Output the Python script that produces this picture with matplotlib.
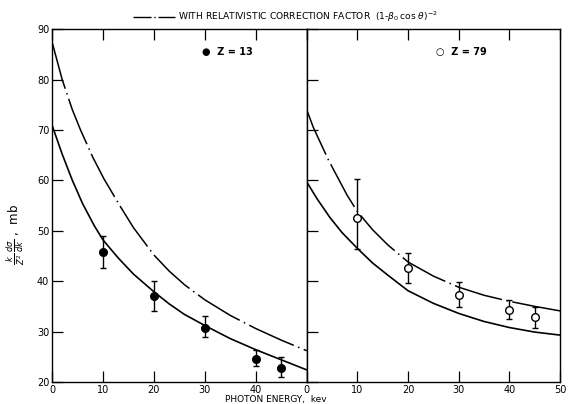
import matplotlib
matplotlib.use("Agg")
import matplotlib.pyplot as plt
from matplotlib.lines import Line2D

# ---------------- data ----------------
# Z = 13 panel
al_x = [10, 20, 30, 40, 45]
al_y = [45.7, 37.0, 30.8, 24.6, 22.7]
al_lo = [42.7, 34.1, 28.9, 23.2, 20.9]
al_hi = [48.9, 40.1, 33.1, 26.3, 25.0]

al_solid_x = [0, 2, 4, 6, 8.3, 10, 13, 16, 20, 23, 26, 30, 35, 40, 45, 50]
al_solid_y = [71.0, 65.2, 60.0, 55.4, 51.0, 48.2, 44.6, 41.4, 37.9, 35.5, 33.4, 31.2, 28.6, 26.4, 24.4, 22.4]
al_rel_x = [0, 2, 4, 5.6, 8, 10.2, 13.3, 16, 20, 23, 26, 30, 35, 40, 45, 50]
al_rel_y = [87.5, 80.0, 74.0, 70.0, 64.6, 60.3, 55.0, 50.6, 45.2, 42.0, 39.3, 36.3, 33.2, 30.6, 28.3, 26.2]

# Z = 79 panel
au_x = [10, 20, 30, 40, 45]
au_y = [52.6, 42.7, 37.2, 34.3, 32.9]
au_lo = [46.3, 39.7, 34.9, 32.4, 30.8]
au_hi = [60.3, 45.6, 39.9, 36.2, 34.9]

au_solid_x = [0, 2, 4.6, 7, 10, 13, 16, 20, 25, 30, 35, 40, 45, 50]
au_solid_y = [59.7, 56.4, 52.6, 49.6, 46.5, 43.6, 41.2, 38.1, 35.6, 33.6, 32.0, 30.8, 29.9, 29.3]
au_rel_x = [0, 1.3, 4.3, 8, 10, 13, 16, 20, 25, 30, 35, 40, 45, 50]
au_rel_y = [74.0, 70.5, 64.0, 57.0, 53.8, 50.2, 47.2, 43.8, 41.0, 38.8, 37.2, 36.0, 35.0, 34.1]

x_ticks = [0, 10, 20, 30, 40, 50]
y_ticks = [20, 30, 40, 50, 60, 70, 80, 90]

# ---------------- figure ----------------
plt.rcParams.update({"font.family": "DejaVu Sans", "font.size": 7})
fig = plt.figure(figsize=(5.68, 4.04), dpi=100)

bottom, height = 0.0545, 0.928 - 0.0545
ax1 = fig.add_axes([0.0915, bottom, 0.540 - 0.0915, height])
ax2 = fig.add_axes([0.540, bottom, 0.986 - 0.540, height])

dashdot = (0, (32, 3, 1, 3))

for ax in (ax1, ax2):
    ax.set_xlim(0, 50)
    ax.set_ylim(20, 90)
    ax.set_xticks(x_ticks)
    ax.set_yticks(y_ticks)
    ax.tick_params(direction="in", length=8, width=0.9, top=True, bottom=True,
                   left=True, right=False, pad=2, labelsize=7)
    for sp in ax.spines.values():
        sp.set_linewidth(1.0)

# the 50 of the left panel is the 0 of the right panel
ax1.set_xticklabels(["0", "10", "20", "30", "40", ""])
ax2.set_xticklabels(["0", "10", "20", "30", "40", "50"])
ax2.set_yticklabels([])

# left panel
ax1.plot(al_solid_x, al_solid_y, color="black", lw=1.2)
ax1.plot(al_rel_x, al_rel_y, color="black", lw=1.1, linestyle=dashdot)
ax1.errorbar(al_x, al_y,
             yerr=[[y - l for y, l in zip(al_y, al_lo)], [h - y for y, h in zip(al_y, al_hi)]],
             fmt="o", color="black", ms=5.5, capsize=2, elinewidth=1.0, capthick=1.0)
ax1.text(0.59, 0.935, "\u25cf  Z = 13", transform=ax1.transAxes, fontsize=7,
         fontweight="bold", va="center")

# right panel
ax2.plot(au_solid_x, au_solid_y, color="black", lw=1.2)
ax2.plot(au_rel_x, au_rel_y, color="black", lw=1.1, linestyle=dashdot)
ax2.errorbar(au_x, au_y,
             yerr=[[y - l for y, l in zip(au_y, au_lo)], [h - y for y, h in zip(au_y, au_hi)]],
             fmt="o", color="black", mfc="white", ms=5.5, capsize=2, elinewidth=1.0,
             capthick=1.0)
ax2.text(0.51, 0.935, "\u25cb  Z = 79", transform=ax2.transAxes, fontsize=7,
         fontweight="bold", va="center")

# axis labels
fig.text(0.486, 0.0, "PHOTON ENERGY,  kev", ha="center", va="bottom", fontsize=6.5)
fig.text(0.027, 0.42, r"$\frac{k}{Z^2}\,\frac{d\sigma}{dk}$ ,  mb", rotation=90,
         ha="center", va="center", fontsize=8.5)

# key for the dash-dot curves, at the top
fig.add_artist(Line2D([133 / 568, 175 / 568], [0.959, 0.959], color="black", lw=1.0,
                      linestyle=(0, (13, 2, 1, 2))))
fig.text(178 / 568, 0.959, r"WITH RELATIVISTIC CORRECTION FACTOR  $(1$-$\beta_0\,\cos\,\theta)^{-2}$",
         ha="left", va="center", fontsize=6.6)

fig.savefig("out.png", dpi=100)
